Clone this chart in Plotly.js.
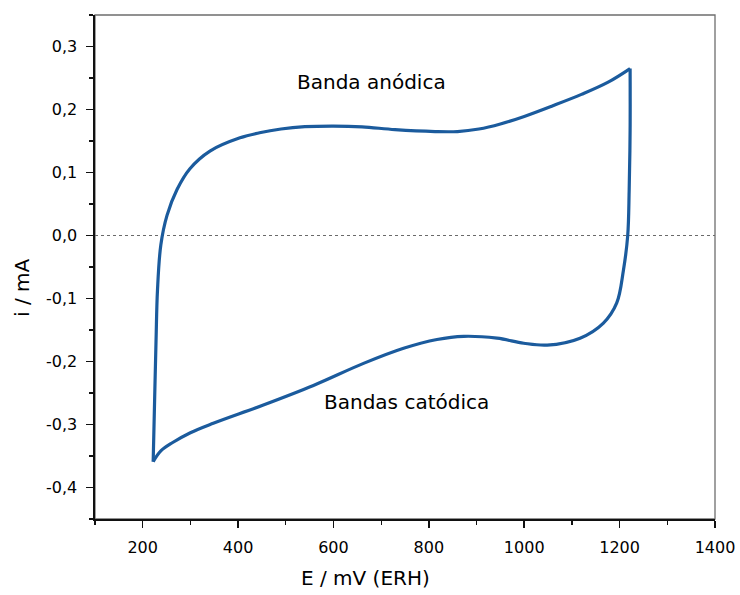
<!DOCTYPE html>
<html>
<head>
<meta charset="utf-8">
<script src="https://cdn.plot.ly/plotly-3.0.1.min.js"></script>
<style>html,body{margin:0;padding:0;background:#fff;}#chart{width:740px;height:595px;}</style>
</head>
<body>
<div id="chart"></div>
<script>
// Anodic sweep (E increasing): from bottom-left vertex to top-right vertex
var E_anodic = [222, 225, 228, 231, 238, 251, 272, 299, 341, 404, 445, 490, 540, 600, 660, 729, 813, 860, 905, 950, 1000, 1060, 1120, 1175, 1222];
var I_anodic = [-0.359, -0.261, -0.166, -0.087, -0.015, 0.032, 0.073, 0.106, 0.134, 0.155, 0.163, 0.169, 0.1727, 0.1737, 0.1725, 0.168, 0.165, 0.165, 0.169, 0.177, 0.189, 0.206, 0.224, 0.243, 0.265];
// Cathodic sweep (E decreasing): from top-right vertex back to bottom-left vertex
var E_cathodic = [1222, 1222, 1220, 1217, 1208, 1194, 1166, 1117, 1048, 999, 943, 873, 817, 747, 663, 558, 453, 348, 300, 262, 238, 222];
var I_cathodic = [0.265, 0.167, 0.070, 0.000, -0.055, -0.107, -0.139, -0.163, -0.174, -0.171, -0.163, -0.160, -0.165, -0.179, -0.203, -0.238, -0.269, -0.298, -0.313, -0.329, -0.342, -0.359];

var yTickVals = [0.3, 0.2, 0.1, 0.0, -0.1, -0.2, -0.3, -0.4];
var yTickText = ["0,3", "0,2", "0,1", "0,0", "-0,1", "-0,2", "-0,3", "-0,4"];
var xTickVals = [200, 400, 600, 800, 1000, 1200, 1400];
var xTickText = ["200", "400", "600", "800", "1000", "1200", "1400"];

var lineColor = '#1b5b9d';
var FONT = 'DejaVu Sans, Arial, sans-serif';
var textColor = '#000000';

var traces = [
  {x: E_anodic, y: I_anodic, mode: 'lines', type: 'scatter',
   line: {color: lineColor, width: 3.2, shape: 'spline', smoothing: 1.0}, hoverinfo: 'skip'},
  {x: E_cathodic, y: I_cathodic, mode: 'lines', type: 'scatter',
   line: {color: lineColor, width: 3.2, shape: 'spline', smoothing: 1.0}, hoverinfo: 'skip'}
];

var layout = {
  width: 740, height: 595,
  margin: {l: 95, r: 25, t: 15, b: 76},
  paper_bgcolor: '#ffffff', plot_bgcolor: '#ffffff',
  showlegend: false,
  font: {family: FONT, color: textColor, size: 16},
  xaxis: {
    range: [100, 1400], showgrid: false, zeroline: false,
    showline: true, linecolor: '#111', linewidth: 1.6,
    ticks: 'outside', ticklen: 7, tickwidth: 1.5, tickcolor: '#111',
    tickvals: xTickVals, ticktext: xTickText,
    ticklabelstandoff: 6,
    tickfont: {family: FONT, size: 16, color: textColor},
    minor: {ticks: 'outside', ticklen: 4, tickwidth: 1.2, tickcolor: '#111', dtick: 100, tick0: 0, showgrid: false},
    fixedrange: true
  },
  yaxis: {
    range: [-0.45, 0.35], showgrid: false, zeroline: false,
    showline: true, linecolor: '#111', linewidth: 1.6,
    ticks: 'outside', ticklen: 7, tickwidth: 1.5, tickcolor: '#111',
    tickvals: yTickVals, ticktext: yTickText,
    ticklabelstandoff: 6,
    tickfont: {family: FONT, size: 16, color: textColor},
    minor: {ticks: 'outside', ticklen: 4, tickwidth: 1.2, tickcolor: '#111', dtick: 0.05, tick0: 0, showgrid: false},
    fixedrange: true
  },
  shapes: [
    {type: 'rect', xref: 'paper', yref: 'paper', x0: 0, x1: 1, y0: 0, y1: 1,
     line: {color: '#6e6e6e', width: 1.3}, layer: 'below'},
    {type: 'line', xref: 'paper', yref: 'y', x0: 0, x1: 1, y0: 0, y1: 0,
     line: {color: '#6a6a6a', width: 1.2, dash: '3px,3px'}, layer: 'below'}
  ],
  annotations: [
    {text: 'Banda anódica', xref: 'paper', yref: 'paper', x: (371 - 95) / 620, y: (519 - 82) / 504,
     showarrow: false, xanchor: 'center', yanchor: 'middle', font: {family: FONT, size: 20, color: textColor}},
    {text: 'Bandas catódica', xref: 'paper', yref: 'paper', x: (407 - 95) / 620, y: (519 - 402) / 504,
     showarrow: false, xanchor: 'center', yanchor: 'middle', font: {family: FONT, size: 20, color: textColor}},
    {text: 'E / mV (ERH)', xref: 'paper', yref: 'paper', x: (365 - 95) / 620, y: (519 - 578) / 504,
     showarrow: false, xanchor: 'center', yanchor: 'middle', font: {family: FONT, size: 20, color: textColor}},
    {text: 'i / mA', xref: 'paper', yref: 'paper', x: (22 - 95) / 620, y: (519 - 288) / 504,
     showarrow: false, xanchor: 'center', yanchor: 'middle', textangle: -90, font: {family: FONT, size: 20, color: textColor}}
  ]
};

Plotly.newPlot('chart', traces, layout, {displayModeBar: false, staticPlot: true});
</script>
</body>
</html>
